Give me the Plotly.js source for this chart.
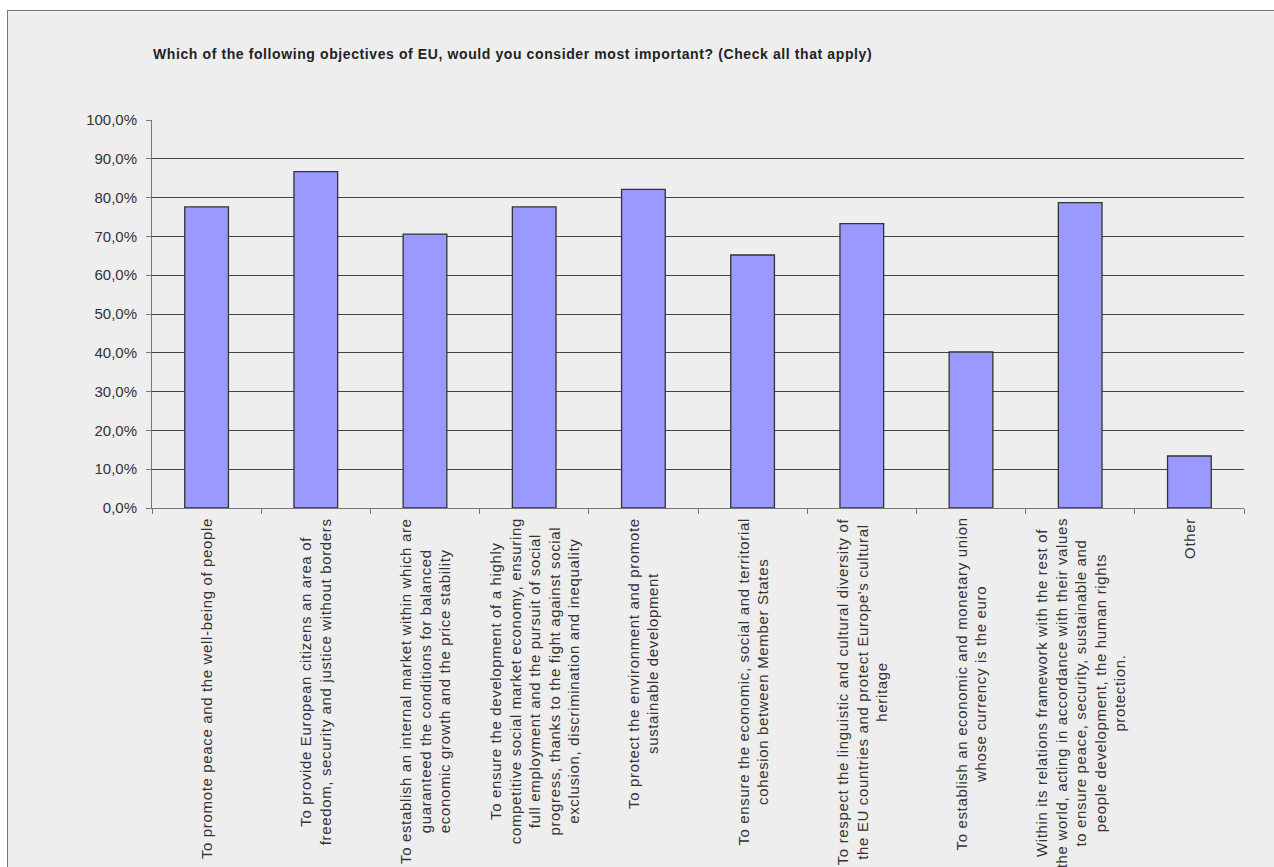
<!DOCTYPE html>
<html>
<head>
<meta charset="utf-8">
<script src="https://cdn.plot.ly/plotly-3.0.1.min.js"></script>
<style>
  html, body { margin: 0; padding: 0; background: #ffffff; width: 1274px; height: 867px; overflow: hidden; }
  #frame { position: absolute; left: 7px; top: 10px; width: 1280px; height: 870px; background: #eeeeee;
           border-left: 1px solid #777777; border-top: 1px solid #777777; }
  #chart { position: absolute; left: 0; top: 0; width: 1274px; height: 867px; }
  .gtitle { letter-spacing: 0.6px; }
  .annotation-text { letter-spacing: 0.65px; }
</style>
</head>
<body>
<div id="frame"></div>
<div id="chart"></div>
<script>
const chartTitle = "Which of the following objectives of EU, would you consider most important? (Check all that apply)";

const categories = [
  "To promote peace and the well-being of people",
  "To provide European citizens an area of<br>freedom, security and justice without borders",
  "To establish an internal market within which are<br>guaranteed the conditions for balanced<br>economic growth and the price stability",
  "To ensure the development of a highly<br>competitive social market economy, ensuring<br>full employment and the pursuit of social<br>progress, thanks to the fight against social<br>exclusion, discrimination and inequality",
  "To protect the environment and promote<br>sustainable development",
  "To ensure the economic, social and territorial<br>cohesion between Member States",
  "To respect the linguistic and cultural diversity of<br>the EU countries and protect Europe's cultural<br>heritage",
  "To establish an economic and monetary union<br>whose currency is the euro",
  "Within its relations framework with the rest of<br>the world, acting in accordance with their values<br>to ensure peace, security, sustainable and<br>people development, the human rights<br>protection.",
  "Other"
];

const values = [77.6, 86.7, 70.6, 77.6, 82.1, 65.2, 73.3, 40.2, 78.7, 13.4];

const yTicks = [0, 10, 20, 30, 40, 50, 60, 70, 80, 90, 100];
const yTickLabels = ["0,0%", "10,0%", "20,0%", "30,0%", "40,0%", "50,0%", "60,0%", "70,0%", "80,0%", "90,0%", "100,0%"];

const fontFamily = "'Liberation Sans', Arial, sans-serif";

const trace = {
  type: "bar",
  x: categories,
  y: values,
  marker: { color: "#9999ff", line: { color: "#333333", width: 1.3 } },
  hoverinfo: "none"
};

const annotations = categories.map(c => ({
  x: c, xref: "x",
  y: 0, yref: "paper",
  yanchor: "top", xanchor: "center",
  yshift: -8,
  text: c,
  textangle: -90,
  align: "center",
  showarrow: false,
  font: { family: fontFamily, size: 15, color: "#333333" }
}));

const layout = {
  width: 1274, height: 867,
  paper_bgcolor: "rgba(0,0,0,0)",
  plot_bgcolor: "rgba(0,0,0,0)",
  margin: { l: 152, r: 30, t: 120, b: 359, pad: 0 },
  showlegend: false,
  bargap: 0.6,
  title: {
    text: "<b>" + chartTitle + "</b>",
    xref: "container", yref: "container",
    x: 153 / 1274, xanchor: "left",
    y: 1 - 54 / 867, yanchor: "middle",
    font: { family: fontFamily, size: 14, color: "#222222" }
  },
  xaxis: {
    type: "category",
    showticklabels: false,
    ticks: "outside",
    tickson: "boundaries",
    ticklen: 5,
    tickcolor: "#777777",
    showline: true,
    linecolor: "#777777",
    linewidth: 1,
    showgrid: false,
    zeroline: false,
    fixedrange: true
  },
  yaxis: {
    range: [0, 100],
    tickmode: "array",
    tickvals: yTicks,
    ticktext: yTickLabels,
    ticks: "outside",
    ticklen: 5,
    ticklabelstandoff: 6,
    tickcolor: "#777777",
    showline: true,
    linecolor: "#777777",
    linewidth: 1,
    showgrid: true,
    gridcolor: "#444444",
    gridwidth: 1,
    zeroline: false,
    tickfont: { family: fontFamily, size: 15, color: "#333333" },
    fixedrange: true
  },
  annotations: annotations
};

Plotly.newPlot("chart", [trace], layout, { displayModeBar: false, staticPlot: true });
</script>
</body>
</html>
